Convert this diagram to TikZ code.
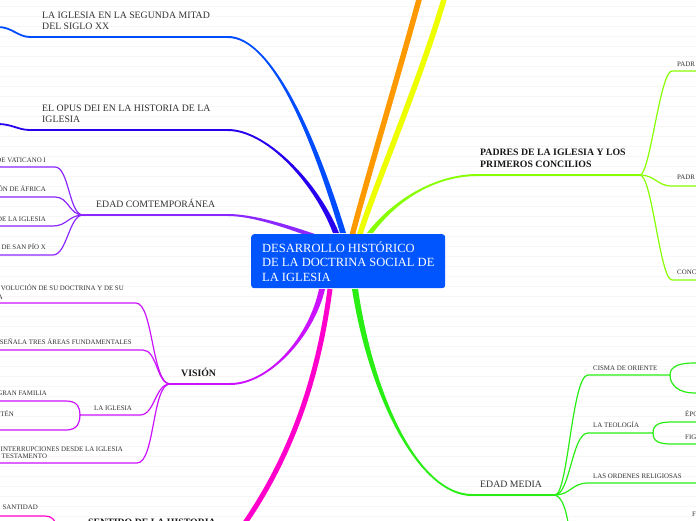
\documentclass[tikz,border=0pt]{standalone}
\usepackage{fontspec}
\setmainfont{Liberation Serif}
\usetikzlibrary{calc}
\definecolor{cnode}{RGB}{0,85,255}
\definecolor{cblue}{RGB}{0,76,255}
\definecolor{cindigo}{RGB}{40,0,240}
\definecolor{cpurple}{RGB}{140,40,255}
\definecolor{cviolet}{RGB}{204,17,255}
\definecolor{cpink}{RGB}{255,0,204}
\definecolor{corange}{RGB}{255,153,0}
\definecolor{cyellow}{RGB}{238,255,0}
\definecolor{clime}{RGB}{136,255,0}
\definecolor{cgreen}{RGB}{40,238,20}
\definecolor{ctext}{RGB}{51,51,51}
\definecolor{cstripe}{RGB}{246,246,246}
\tikzset{
 lbl/.style={font=\fontsize{9.8}{11}\selectfont, text=ctext, inner sep=0, anchor=base west},
 lblb/.style={font=\fontsize{9.8}{11}\selectfont\bfseries, text=black!90, inner sep=0, anchor=base west},
 sml/.style={font=\fontsize{6.9}{8}\selectfont, text=ctext, inner sep=0, anchor=base west},
 smle/.style={font=\fontsize{6.9}{8}\selectfont, text=ctext, inner sep=0, anchor=base east},
 ttl/.style={font=\fontsize{12.5}{14}\selectfont, text=white, inner sep=0, anchor=base west},
 thinline/.style={line width=1.2, line cap=round},
 midline/.style={line width=1.8, line cap=round},
 fatline/.style={line width=5.5},
}
\newcommand{\branch}[7]{\fill[#5] ($(#1)+(-3,0)$) .. controls ($(#2)+(-2.5,0)$) and ($(#3)+(0,#6)$) .. ($(#4)+(0,#6)$) -- ($(#4)+(0,#7)$) .. controls ($(#3)+(0,#7)$) and ($(#2)+(2.5,0)$) .. ($(#1)+(3,0)$) -- cycle;}
\begin{document}
\begin{tikzpicture}[x=1pt,y=-1pt]
\useasboundingbox (0,0) rectangle (696,520);
\fill[white] (0,0) rectangle (696,520);
\foreach \yy in {6,16,...,516} \draw[cstripe, line width=1] (0,\yy) -- (696,\yy);

% ---------- coordinates of main branches ----------
\coordinate (b1s) at (343,233); \coordinate (b1a) at (312,130); \coordinate (b1b) at (270,37); \coordinate (b1e) at (228,37);
\coordinate (b2s) at (336,233); \coordinate (b2a) at (315,180); \coordinate (b2b) at (265,130); \coordinate (b2e) at (228,130);
\coordinate (b3s) at (325,240); \coordinate (b3a) at (295,229); \coordinate (b3b) at (255,215); \coordinate (b3e) at (228,215);
\coordinate (b4s) at (322,289); \coordinate (b4a) at (312,335); \coordinate (b4b) at (270,384); \coordinate (b4e) at (230,384);
\coordinate (b5s) at (330,289); \coordinate (b5a) at (318,380); \coordinate (b5b) at (290,460); \coordinate (b5e) at (240,530);
\coordinate (b6s) at (351,240); \coordinate (b6a) at (365,185); \coordinate (b6b) at (400,70); \coordinate (b6e) at (423,-15);
\coordinate (b7s) at (358,240); \coordinate (b7a) at (375,185); \coordinate (b7b) at (425,70); \coordinate (b7e) at (448,-15);
\coordinate (b8s) at (370,233); \coordinate (b8a) at (395,200); \coordinate (b8b) at (435,175); \coordinate (b8e) at (478,175);
\coordinate (b9s) at (355,289); \coordinate (b9a) at (372,400); \coordinate (b9b) at (420,495); \coordinate (b9e) at (472,495);

% hubs
\coordinate (h3) at (83,215);
\coordinate (h4) at (170,384);
\coordinate (h4i) at (80,415);
\coordinate (h8) at (640,175);
\coordinate (h9) at (555,495);
\coordinate (h9c) at (670,375);
\coordinate (h9t) at (653,433);

% ---------- thick branches ----------
\branch{b1s}{b1a}{b1b}{b1e}{cblue}{1}{-1}
\branch{b2s}{b2a}{b2b}{b2e}{cindigo}{1}{-1}
\fill[cpurple] ($(b3s)+(0,-2.5)$) .. controls ($(b3a)+(0,-2)$) and ($(b3b)+(0,-1)$) .. ($(b3e)+(0,-1)$) -- ($(b3e)+(0,1)$) .. controls ($(b3b)+(0,1)$) and ($(b3a)+(0,2)$) .. ($(b3s)+(0,2.5)$) -- cycle;
\branch{b4s}{b4a}{b4b}{b4e}{cviolet}{-1}{1}
\draw[cpink, line width=5] (b5s) .. controls (b5a) and (b5b) .. (b5e);
\draw[corange, fatline] (b6s) .. controls (b6a) and (b6b) .. (b6e);
\draw[cyellow, fatline] (b7s) .. controls (b7a) and (b7b) .. (b7e);
\branch{b8s}{b8a}{b8b}{b8e}{clime}{-1}{1}
\branch{b9s}{b9a}{b9b}{b9e}{cgreen}{1}{-1}

% ---------- blue ----------
\coordinate (l1a) at (30,37); \coordinate (l1b) at (-2,27);
\draw[cblue, midline] (b1e) -- (l1a) .. controls (18,37) and (12,27) .. (l1b);
% ---------- indigo ----------
\coordinate (l2a) at (30,130); \coordinate (l2b) at (-2,124);
\draw[cindigo, midline] (b2e) -- (l2a) .. controls (18,130) and (12,124) .. (l2b);

% ---------- purple ----------
\draw[cpurple, midline] (b3e) -- (h3);
\coordinate (p1) at (55,167); \coordinate (p2) at (55,197); \coordinate (p3) at (53,226); \coordinate (p4) at (53,255);
\foreach \p in {p1,p2,p3,p4} {
  \draw[cpurple, thinline] (h3) .. controls ($(h3)+(-14,0)$) and ($(\p)+(14,0)$) .. (\p) -- ($(\p)+(-60,0)$);
}

% ---------- violet (VISION) ----------
\draw[cviolet, midline] (b4e) -- (h4);
\coordinate (v1) at (136,303); \coordinate (v2) at (143,350); \coordinate (v3) at (140,415); \coordinate (v4) at (137,463);
\draw[cviolet, thinline] (h4) .. controls (152,384) and (153,303) .. (v1) -- (-2,303);
\draw[cviolet, thinline] (h4) .. controls (157,384) and (157,350) .. (v2) -- (-2,350);
\draw[cviolet, thinline] (h4) .. controls (155,384) and (155,415) .. (v3) -- (h4i);
\draw[cviolet, thinline] (h4) .. controls (152,384) and (155,463) .. (v4) -- (-2,463);
\coordinate (v5) at (66,401); \coordinate (v6) at (66,430);
\draw[cviolet, thinline] (h4i) .. controls (80,408) and (78,401) .. (v5) -- (-2,401);
\draw[cviolet, thinline] (h4i) .. controls (80,422) and (78,430) .. (v6) -- (-2,430);

% ---------- pink (SENTIDO) ----------
\coordinate (s1) at (45,516); \coordinate (s2) at (58,528);
\draw[cpink, thinline] (-2,516) -- (s1) .. controls (52,516) and (55,520) .. (s2);

% ---------- lime (PADRES) ----------
\draw[clime, midline] (b8e) -- (h8);
\coordinate (g1) at (672,71); \coordinate (g2) at (672,186); \coordinate (g3) at (672,280);
\draw[clime, thinline] (h8) .. controls (650,175) and (660,71) .. (g1) -- (698,71);
\draw[clime, thinline] (h8) .. controls (655,175) and (657,186) .. (g2) -- (698,186);
\draw[clime, thinline] (h8) .. controls (652,175) and (660,280) .. (g3) -- (698,280);

% ---------- green (EDAD MEDIA) ----------
\draw[cgreen, midline] (b9e) -- (h9);
\coordinate (m1) at (588,375); \coordinate (m2) at (588,433); \coordinate (m3) at (588,483); \coordinate (m4) at (569,528);
\draw[cgreen, thinline] (h9) .. controls (568,495) and (572,375) .. (m1) -- (h9c);
\draw[cgreen, thinline] (h9) .. controls (570,495) and (572,433) .. (m2) -- (h9t);
\draw[cgreen, thinline] (h9) .. controls (570,495) and (572,483) .. (m3) -- (698,483);
\draw[cgreen, thinline] (h9) .. controls (563,498) and (566,510) .. (m4);
\draw[cgreen, thinline] (h9c) .. controls (670,366) and (680,363) .. (694,363) -- (698,363);
\draw[cgreen, thinline] (h9c) .. controls (670,386) and (680,393) .. (694,393) -- (698,393);
\draw[cgreen, thinline] (h9t) .. controls (653,424) and (660,422) .. (672,422) -- (698,422);
\draw[cgreen, thinline] (h9t) .. controls (653,442) and (660,444) .. (672,444) -- (698,444);

% ---------- central node ----------
\node[fill=cnode, rounded corners=3, minimum width=194, minimum height=54, inner sep=0, anchor=north west] (root) at (251,234) {};
\node[ttl] (r1) at (262,252) {DESARROLLO HISTÓRICO};
\node[ttl] (r2) at (262,266.5) {DE LA DOCTRINA SOCIAL DE};
\node[ttl] (r3) at (262,281) {LA IGLESIA};

% ---------- main labels ----------
\node[lbl] (t1a) at (42,18.5) {LA IGLESIA EN LA SEGUNDA MITAD};
\node[lbl] (t1b) at (42,29.5) {DEL SIGLO XX};
\node[lbl] (t2a) at (42,111) {EL OPUS DEI EN LA HISTORIA DE LA};
\node[lbl] (t2b) at (42,122) {IGLESIA};
\node[lbl] (t3) at (96,207.7) {EDAD COMTEMPORÁNEA};
\node[lblb] (t4) at (181,376) {VISIÓN};
\node[lblb] (t5) at (88,525.5) {SENTIDO DE LA HISTORIA};
\node[lblb] (t8a) at (480,155.5) {PADRES DE LA IGLESIA Y LOS};
\node[lblb] (t8b) at (480,167) {PRIMEROS CONCILIOS};
\node[lbl] (t9) at (480,487.5) {EDAD MEDIA};

% ---------- small labels ----------
\node[smle] (k1) at (46,162) {DE VATICANO I};
\node[smle] (k2) at (46,191) {ÓN DE ÁFRICA};
\node[smle] (k3) at (46,221) {DE LA IGLESIA};
\node[smle] (k4) at (46,249.3) {DE SAN PÍO X};
\node[smle] (k5a) at (124,290.7) {VOLUCIÓN DE SU DOCTRINA Y DE SU};
\node[smle] (k5b) at (3,299) {A};
\node[smle] (k6) at (132,344.7) {SEÑALA TRES ÁREAS FUNDAMENTALES};
\node[smle] (k7) at (47,395.7) {GRAN FAMILIA};
\node[smle] (k8) at (14,416.7) {STÉN};
\node[sml] (k9) at (94,410.7) {LA IGLESIA};
\node[smle] (k10a) at (123,451) {INTERRUPCIONES DESDE LA IGLESIA};
\node[sml] (k10b) at (1.5,458.3) {TESTAMENTO};
\node[smle] (k11) at (38,509.7) {SANTIDAD};
\node[sml] (k12) at (677,66) {PADR};
\node[sml] (k13) at (677,179.3) {PADR};
\node[sml] (k14) at (677,274.3) {CONC};
\node[sml] (k15) at (593,370) {CISMA DE ORIENTE};
\node[sml] (k16) at (593,427.7) {LA TEOLOGÍA};
\node[sml] (k17) at (593,478.3) {LAS ORDENES RELIGIOSAS};
\node[sml] (k18) at (685,416.7) {ÉPO};
\node[sml] (k19) at (685,439) {FIG};
\node[sml] (k20) at (692,516) {F};
\end{tikzpicture}
\end{document}
